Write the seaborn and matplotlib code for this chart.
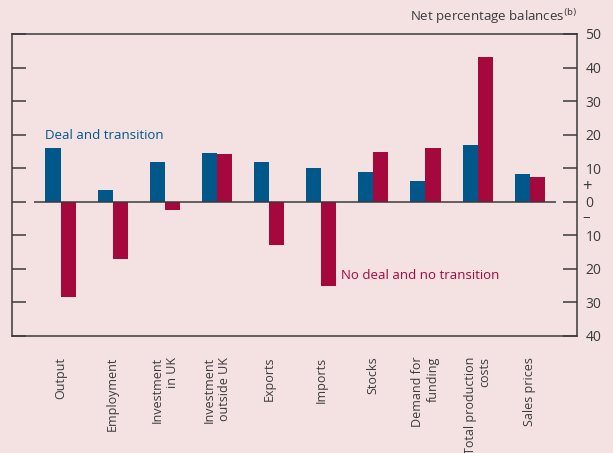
"""
Net percentage balances under two Brexit scenarios.
"""

import matplotlib
matplotlib.use("Agg")
import matplotlib.pyplot as plt
from matplotlib.ticker import FuncFormatter, FixedLocator
import seaborn as sns
import pandas as pd

categories = ["Output", "Employment", "Investment\nin UK", "Investment\noutside UK",
              "Exports", "Imports", "Stocks", "Demand for\nfunding",
              "Total production\ncosts", "Sales prices"]
deal = [16.0, 3.5, 11.9, 14.6, 11.9, 10.1, 8.9, 6.2, 16.9, 8.3]
no_deal = [-28.3, -17.0, -2.6, 14.2, -12.8, -25.0, 14.8, 16.0, 43.1, 7.4]
series = ["Deal and transition", "No deal and no transition"]
y_ticks = [-40, -30, -20, -10, 0, 10, 20, 30, 40, 50]

BG = "#f4e1e2"
BLUE = "#00578a"
RED = "#a5083d"
INK = "#3a3a3a"

sns.set_style("white")
plt.rcParams["font.family"] = ["Open Sans", "DejaVu Sans"]
plt.rcParams["font.size"] = 9.5

df = pd.DataFrame({
    "category": categories * 2,
    "value": deal + no_deal,
    "series": [series[0]] * len(categories) + [series[1]] * len(categories),
})

fig = plt.figure(figsize=(6.13, 4.53), dpi=100, facecolor=BG)
ax = fig.add_axes([0.0196, 0.2583, 0.9217, 0.6667], facecolor=BG)

sns.barplot(data=df, x="category", y="value", hue="series", order=categories,
            hue_order=series, palette=[BLUE, RED], width=0.58, saturation=1,
            edgecolor="none", linewidth=0, legend=False, ax=ax)

n = len(categories)
ax.set_xlim(-0.93, n - 0.5 + 0.406)
ax.set_ylim(-40, 50)
ax.hlines(0, -0.5, n - 0.5, color=INK, lw=1.1, zorder=3)

for s in ax.spines.values():
    s.set_color(INK)
    s.set_linewidth(1.1)

# y axis: ticks on both sides, labels on the right as absolute values
ax.yaxis.set_major_locator(FixedLocator(y_ticks))
ax.yaxis.set_ticks_position("both")
ax.tick_params(axis="y", direction="in", length=10, width=1.1, color=INK,
               labelleft=False, labelright=True, labelsize=10, pad=6,
               labelcolor=INK)
ax.yaxis.set_major_formatter(FuncFormatter(lambda v, p: f"{abs(int(v))}"))
for lab in ax.get_yticklabels():
    lab.set_horizontalalignment("left")

# x axis: labels at centres, ticks at category boundaries
ax.set_xticks(range(n))
ax.set_xticklabels(categories, rotation=90, va="top", ha="center",
                   multialignment="right", color=INK, fontsize=9)
ax.set_xticks([i - 0.5 for i in range(n + 1)], minor=True)
ax.tick_params(axis="x", which="major", length=0, pad=15)
ax.tick_params(axis="x", which="minor", direction="in", length=11, width=1.1,
               color=INK)
ax.set_xlabel("")
ax.set_ylabel("")

# sign markers on the right axis
ax.text(1.017, 4.5, "+", transform=ax.get_yaxis_transform(), ha="center",
        va="center", fontsize=12, color=INK)
ax.text(1.017, -4.6, "\u2013", transform=ax.get_yaxis_transform(), ha="center",
        va="center", fontsize=11, color=INK)

ax.text(1.0, 1.025, "Net percentage balances$^{(\\mathrm{b})}$",
        transform=ax.transAxes, ha="right", va="bottom", fontsize=9.5, color=INK)

ax.text(-0.29, 19.6, series[0], color=BLUE, fontsize=9.5, va="center")
ax.text(5.38, -22.1, series[1], color=RED, fontsize=9.5, va="center")

fig.savefig("out.png", dpi=100, facecolor=BG)
